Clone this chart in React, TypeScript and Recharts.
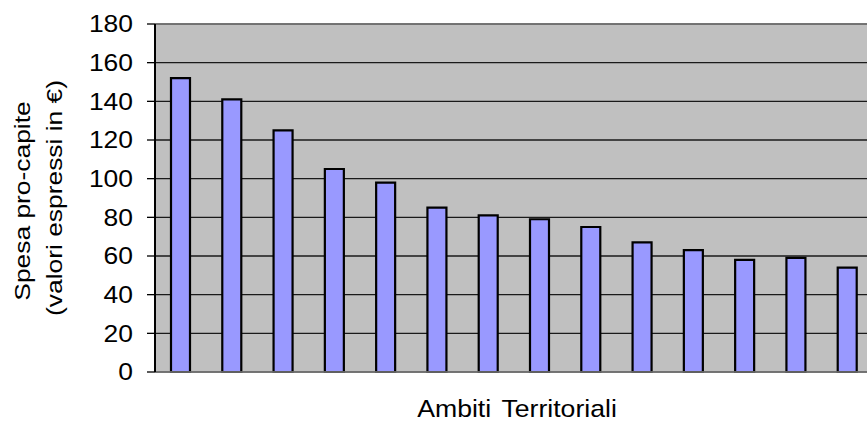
import React from "react";
import { BarChart, Bar, XAxis, YAxis, CartesianGrid, ReferenceLine } from "recharts";

const categories = [
  "Ambito 1", "Ambito 2", "Ambito 3", "Ambito 4", "Ambito 5", "Ambito 6", "Ambito 7",
  "Ambito 8", "Ambito 9", "Ambito 10", "Ambito 11", "Ambito 12", "Ambito 13", "Ambito 14",
];
const spesaProCapite = [152, 141, 125, 105, 98, 85, 81, 79, 75, 67, 63, 58, 59, 54];
const yTicks = [0, 20, 40, 60, 80, 100, 120, 140, 160, 180];
const yAxisTitle = ["Spesa pro-capite", "(valori espressi in €)"];
const xAxisTitle = "Ambiti Territoriali";

const data = categories.map((c, i) => ({ ambito: c, spesa: spesaProCapite[i] }));

const FONT = "'Liberation Sans', Arial, sans-serif";

const YTick = (props: any) => {
  const { x, y, payload } = props;
  return (
    <g transform={`translate(${x - 12},${y})`}>
      <text
        x={0}
        y={0}
        dy="0.36em"
        textAnchor="end"
        transform="scale(1.15,1)"
        fontSize={23}
        fill="#000"
        fontFamily={FONT}
      >
        {payload.value}
      </text>
    </g>
  );
};

const YLabel = (props: any) => {
  const vb = props.viewBox;
  const cy = vb.y + vb.height / 2;
  return (
    <g>
      <text
        transform={`translate(30,${cy + 3}) rotate(-90) scale(1.2,1)`}
        textAnchor="middle"
        fontSize={22}
        fill="#000"
        fontFamily={FONT}
      >
        {yAxisTitle[0]}
      </text>
      <text
        transform={`translate(62,${cy}) rotate(-90) scale(1.2,1)`}
        textAnchor="middle"
        fontSize={22}
        fill="#000"
        fontFamily={FONT}
      >
        {yAxisTitle[1]}
      </text>
    </g>
  );
};

const XLabel = (props: any) => {
  const vb = props.viewBox;
  const cx = vb.x + vb.width / 2 + 3;
  return (
    <text
      transform={`translate(${cx},${vb.y + 45}) scale(1.11,1)`}
      textAnchor="middle"
      fontSize={24}
      fill="#000"
      fontFamily={FONT}
      wordSpacing={3}
    >
      {xAxisTitle}
    </text>
  );
};

export default function App() {
  return (
    <div
      style={{
        position: "fixed",
        top: 0,
        left: 0,
        width: 867,
        height: 423,
        overflow: "hidden",
        background: "#fff",
      }}
    >
      <BarChart
        width={900}
        height={423}
        data={data}
        margin={{ top: 24, right: 27, left: 95, bottom: 41 }}
      >
        <CartesianGrid
          vertical={false}
          stroke="#1a1a1a"
          strokeWidth={1.3}
          fill="#C0C0C0"
          fillOpacity={1}
        />
        <XAxis
          dataKey="ambito"
          height={10}
          tick={false}
          tickLine={false}
          axisLine={{ stroke: "#808080", strokeWidth: 1.5 }}
          label={{ content: XLabel }}
        />
        <YAxis
          width={60}
          domain={[0, 180]}
          ticks={yTicks}
          interval={0}
          tickSize={8}
          tickLine={{ stroke: "#000", strokeWidth: 1.3 }}
          axisLine={{ stroke: "#000", strokeWidth: 2 }}
          tick={YTick}
          label={{ content: YLabel }}
        />
        <ReferenceLine y={180} stroke="#808080" strokeWidth={1.5} />
        <Bar
          dataKey="spesa"
          fill="#9999FF"
          stroke="#000"
          strokeWidth={2.2}
          barSize={19}
          isAnimationActive={false}
        />
      </BarChart>
    </div>
  );
}
